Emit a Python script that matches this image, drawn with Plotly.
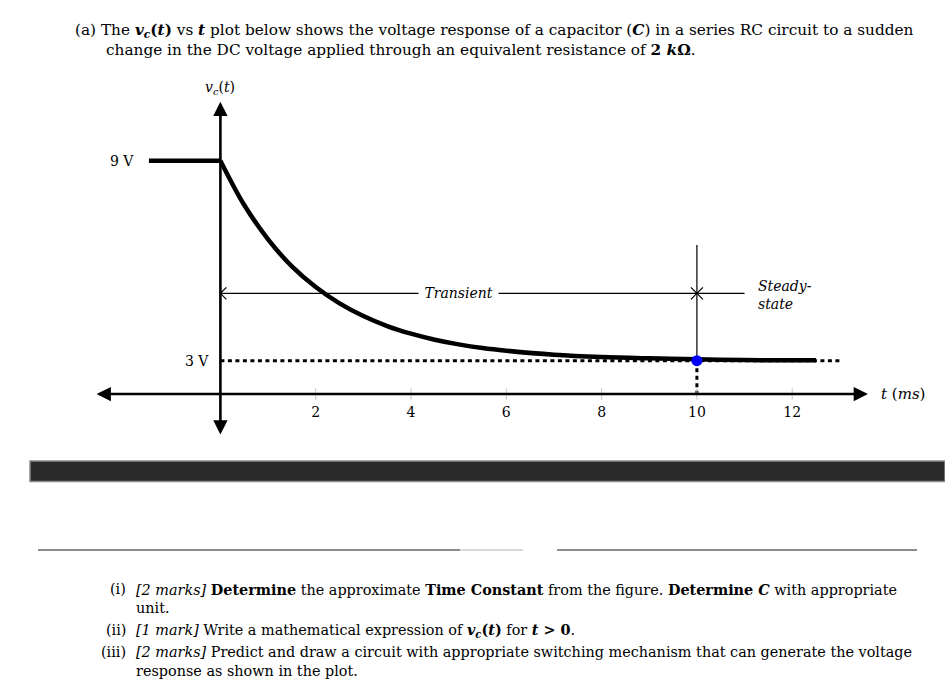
import plotly.graph_objects as go

# ---------------- data ----------------
t_pre = [-1.5, 0.0]
v_pre = [9.0, 9.0]
t_curve = [0, 0.5, 1, 1.5, 2, 2.5, 3, 3.5, 4, 4.5, 5, 5.5, 6, 7, 8, 9, 10, 11, 12, 12.5]
v_curve = [9.0, 7.67, 6.64, 5.83, 5.21, 4.72, 4.34, 4.04, 3.81, 3.63, 3.49, 3.38, 3.30,
           3.18, 3.11, 3.07, 3.04, 3.02, 3.01, 3.01]
t_ticks = [2, 4, 6, 8, 10, 12]
tick_labels = ["2", "4", "6", "8", "10", "12"]
v_initial = 9.0
v_final = 3.0
t_final_dash = 13.0
t_steady = 10.0
t_steady_end = 11.0
v_marker_line = 5.02      # level of the Transient / Steady-state arrows
v_guide_top = 6.47        # top of thin vertical guide at t = 10
v_axis = 2.0              # level where the t axis is drawn (schematic)
t_axis_ext = [-2.63, 13.59]
v_axis_ext = [0.74, 10.77]

# ---------------- geometry helpers ----------------
W, H = 945, 685
T0_PX, PX_PER_T = 220.4, 47.65
V9_PY, PX_PER_V = 160.7, 200.0 / 6.0
xr = [-T0_PX / PX_PER_T, (W - T0_PX) / PX_PER_T]
yr = [9 - (H - V9_PY) / PX_PER_V, 9 + V9_PY / PX_PER_V]


def px(x):
    return x / W


def py(y):
    return 1 - y / H


dT = 6 / PX_PER_T
dV = 6 / PX_PER_V

FONT = "DejaVu Serif"
fig = go.Figure()

# thin transient / steady-state guides
fig.add_trace(go.Scatter(x=[0, t_steady], y=[v_marker_line, v_marker_line], mode="lines",
                         line=dict(color="black", width=1.2), hoverinfo="skip"))
fig.add_trace(go.Scatter(x=[t_steady, t_steady_end], y=[v_marker_line, v_marker_line], mode="lines",
                         line=dict(color="black", width=1.2), hoverinfo="skip"))
fig.add_trace(go.Scatter(x=[t_steady, t_steady], y=[v_guide_top, v_final], mode="lines",
                         line=dict(color="black", width=1.2), hoverinfo="skip"))
# chevron tips
for tip, sgn in [(0, 1), (t_steady, -1), (t_steady, 1)]:
    fig.add_trace(go.Scatter(x=[tip + sgn * dT, tip, tip + sgn * dT],
                             y=[v_marker_line + dV, v_marker_line, v_marker_line - dV],
                             mode="lines", line=dict(color="black", width=1.2), hoverinfo="skip"))

# dashed asymptote and vertical dashed
fig.add_trace(go.Scatter(x=[0, t_final_dash], y=[v_final, v_final], mode="lines",
                         line=dict(color="black", width=3, dash="4px,3.5px"), hoverinfo="skip"))
fig.add_trace(go.Scatter(x=[t_steady, t_steady], y=[v_final, v_axis], mode="lines",
                         line=dict(color="black", width=3, dash="4px,3.5px"), hoverinfo="skip"))

# response
fig.add_trace(go.Scatter(x=t_pre, y=v_pre, mode="lines",
                         line=dict(color="black", width=4.5), hoverinfo="skip"))
fig.add_trace(go.Scatter(x=t_curve, y=v_curve, mode="lines",
                         line=dict(color="black", width=4.5, shape="spline"), hoverinfo="skip"))

# tick marks on t axis
fig.add_trace(go.Scatter(x=t_ticks, y=[v_axis] * len(t_ticks), mode="markers",
                         marker=dict(symbol="line-ns", size=8, line=dict(color="#c0c0c0", width=1)),
                         hoverinfo="skip"))

# blue steady-state point
fig.add_trace(go.Scatter(x=[t_steady], y=[v_final], mode="markers",
                         marker=dict(color="#0000ff", size=11), hoverinfo="skip"))

ann = []
# axes arrows
ann.append(dict(x=t_axis_ext[1], y=v_axis, ax=t_axis_ext[0], ay=v_axis, xref="x", yref="y",
                axref="x", ayref="y", showarrow=True, arrowhead=2, arrowside="end+start",
                arrowwidth=2.6, arrowsize=1.1, arrowcolor="black", text=""))
ann.append(dict(x=0, y=v_axis_ext[1], ax=0, ay=v_axis_ext[0], xref="x", yref="y",
                axref="x", ayref="y", showarrow=True, arrowhead=2, arrowside="end+start",
                arrowwidth=2.6, arrowsize=1.1, arrowcolor="black", text=""))

LBL = dict(family=FONT, size=14, color="black")
C = dict(xanchor="center", yanchor="middle", showarrow=False)
L = dict(xanchor="left", yanchor="middle", showarrow=False)
# chart labels
ann.append(dict(x=0, y=py(88), xref="x", yref="paper", text="<i>v<sub>c</sub></i>(<i>t</i>)",
                font=LBL, **C))
ann.append(dict(x=px(122), y=v_initial, xref="paper", yref="y", text="9 V", font=LBL, **C))
ann.append(dict(x=px(197), y=v_final, xref="paper", yref="y", text="3 V", font=LBL, **C))
ann.append(dict(x=px(879), y=v_axis, xref="paper", yref="y", text="<i>t</i> (<i>ms</i>)",
                font=dict(family=FONT, size=15, color="black"), **L))
ann.append(dict(x=5.0, y=v_marker_line, xref="x", yref="y", text=" <i>Transient</i> ",
                bgcolor="white", font=LBL, **C))
ann.append(dict(x=px(756), y=py(295), xref="paper", yref="paper",
                text="<i>Steady-</i><br><i>state</i>", align="left", font=LBL, **L))

# question text
TOP = dict(family=FONT, size=15.3, color="black")
BOT = dict(family=FONT, size=14.4, color="black")
ann.append(dict(x=px(73), y=py(31), xref="paper", yref="paper", font=TOP,
                text="(a) The <b><i>v<sub>c</sub></i>(<i>t</i>)</b> vs <b><i>t</i></b> plot below shows the "
                     "voltage response of a capacitor (<b><i>C</i></b>) in a series RC circuit to a sudden",
                **L))
ann.append(dict(x=px(104), y=py(50), xref="paper", yref="paper", font=TOP,
                text="change in the DC voltage applied through an equivalent resistance of <b>2 <i>k</i>Ω</b>.",
                **L))

items = [
    ("(i)", 589, "<i>[2 marks]</i> <b>Determine</b> the approximate <b>Time Constant</b> from the figure. "
                 "<b>Determine <i>C</i></b> with appropriate"),
    ("", 608, "unit."),
    ("(ii)", 630, "<i>[1 mark]</i> Write a mathematical expression of <b><i>v<sub>c</sub></i>(<i>t</i>)</b> "
                  "for <b><i>t</i> &gt; 0</b>."),
    ("(iii)", 652, "<i>[2 marks]</i> Predict and draw a circuit with appropriate switching mechanism that "
                   "can generate the voltage"),
    ("", 671, "response as shown in the plot."),
]
for lab, yy, body in items:
    if lab:
        ann.append(dict(x=px(128), y=py(yy), xref="paper", yref="paper", xanchor="right",
                        yanchor="middle", showarrow=False, font=BOT, text=lab))
    ann.append(dict(x=px(134), y=py(yy), xref="paper", yref="paper", font=BOT, text=body, **L))

shapes = [
    dict(type="rect", xref="paper", yref="paper", x0=px(30), x1=1.0, y0=py(481.5), y1=py(461),
         fillcolor="#2a2a2a", line=dict(color="#8a8a8a", width=1.5)),
    dict(type="line", xref="paper", yref="paper", x0=px(38), x1=px(460), y0=py(550), y1=py(550),
         line=dict(color="#8c8c8c", width=2)),
    dict(type="line", xref="paper", yref="paper", x0=px(460), x1=px(523), y0=py(550), y1=py(550),
         line=dict(color="#d8d8d8", width=2)),
    dict(type="line", xref="paper", yref="paper", x0=px(557), x1=px(917), y0=py(550), y1=py(550),
         line=dict(color="#8c8c8c", width=2)),
]

fig.update_layout(
    width=W, height=H, margin=dict(l=0, r=0, t=0, b=0),
    paper_bgcolor="white", plot_bgcolor="white", showlegend=False,
    annotations=ann, shapes=shapes,
    xaxis=dict(range=xr, domain=[0, 1], anchor="free", position=py(394), showgrid=False,
               zeroline=False, showline=False, ticks="", tickvals=t_ticks, ticktext=tick_labels,
               ticklabelstandoff=8, tickfont=dict(family=FONT, size=14, color="black"),
               fixedrange=True),
    yaxis=dict(range=yr, domain=[0, 1], visible=False, fixedrange=True),
)

fig.write_html("out.html", config={"displayModeBar": False},
               post_script="document.body.style.margin='0';document.body.style.overflow='hidden';")
